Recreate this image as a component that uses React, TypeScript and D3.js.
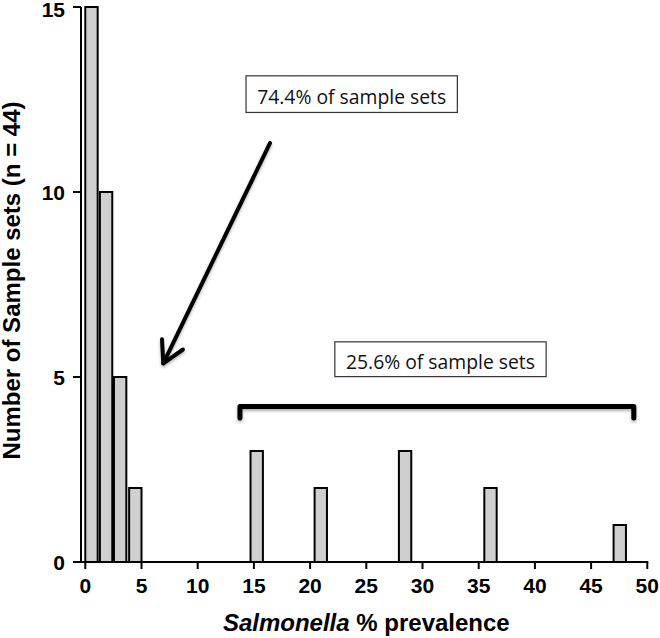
import React from "react";
import * as d3 from "d3";

// Histogram data: bin centre (% prevalence) and number of sample sets
const binCenters = [0.55, 1.85, 3.1, 4.45, 15.25, 20.95, 28.45, 36.05, 47.55];
const binCounts = [15, 10, 5, 2, 3, 2, 3, 2, 1];
const binHalfWidth = 0.55;

const xTicks = [0, 5, 10, 15, 20, 25, 30, 35, 40, 45, 50];
const yTicks = [0, 5, 10, 15];

const xTitleItalic = "Salmonella";
const xTitleRest = " % prevalence";
const yTitle = "Number of Sample sets (n = 44)";

// Annotation labels (data coordinates)
const boxLabels = ["74.4% of sample sets", "25.6% of sample sets"];
const boxX0 = [14.3, 22.2];
const boxX1 = [33.1, 41.0];
const boxYTop = [13.14, 5.95];
const boxYBottom = [12.15, 5.01];

const arrowFrom = [16.43, 11.32];
const arrowTo = [6.94, 5.37];

const bracketX = [13.76, 48.8];
const bracketY = [4.2, 3.89];

const W = 660;
const H = 638;

export default function App() {
  const x = d3.scaleLinear().domain([0, 50]).range([85.3, 647.3]);
  const y = d3.scaleLinear().domain([0, 15]).range([562, 7]);
  const axisX = 81;
  const bold = "'Liberation Sans', Arial, sans-serif";

  // Arrow head
  const tx = x(arrowTo[0]);
  const ty = y(arrowTo[1]);
  const fx = x(arrowFrom[0]);
  const fy = y(arrowFrom[1]);
  const ang = Math.atan2(fy - ty, fx - tx);
  const headLen = 24;
  const spread = (29 * Math.PI) / 180;
  const h1 = [tx + headLen * Math.cos(ang - spread), ty + headLen * Math.sin(ang - spread)];
  const h2 = [tx + headLen * Math.cos(ang + spread), ty + headLen * Math.sin(ang + spread)];

  const line = d3.line();

  return (
    <svg
      width={W}
      height={H}
      viewBox={`0 0 ${W} ${H}`}
      style={{ position: "absolute", left: 0, top: 0, background: "#fff" }}
    >
      <defs>
        <filter id="shadow" x="-10%" y="-50%" width="120%" height="200%">
          <feDropShadow dx="0" dy="2" stdDeviation="1.5" floodColor="#000" floodOpacity="0.3" />
        </filter>
      </defs>
      <rect x={0} y={0} width={W} height={H} fill="#fff" />

      {/* bars */}
      {binCenters.map((c, i) => (
        <rect
          key={i}
          x={x(c - binHalfWidth)}
          y={y(binCounts[i])}
          width={x(c + binHalfWidth) - x(c - binHalfWidth)}
          height={y(0) - y(binCounts[i])}
          fill="#cfcfcf"
          stroke="#000"
          strokeWidth={2}
        />
      ))}

      {/* y axis */}
      <line x1={axisX} x2={axisX} y1={y(15)} y2={y(0)} stroke="#000" strokeWidth={2} />
      {yTicks.map((t) => (
        <g key={t}>
          <line x1={axisX - 8} x2={axisX} y1={y(t)} y2={y(t)} stroke="#000" strokeWidth={2} />
          <text
            x={65}
            y={Math.max(y(t), 9)}
            dy="0.36em"
            textAnchor="end"
            fontFamily={bold}
            fontWeight="bold"
            fontSize={21}
          >
            {t}
          </text>
        </g>
      ))}

      {/* x axis */}
      <line x1={axisX} x2={x(50) + 1} y1={y(0)} y2={y(0)} stroke="#000" strokeWidth={2} />
      {xTicks.map((t) => (
        <g key={t}>
          <line x1={x(t)} x2={x(t)} y1={y(0)} y2={y(0) + 7} stroke="#000" strokeWidth={2} />
          <text
            x={x(t)}
            y={593}
            textAnchor="middle"
            fontFamily={bold}
            fontWeight="bold"
            fontSize={21}
          >
            {t}
          </text>
        </g>
      ))}

      {/* axis titles */}
      <text
        x={(x(0) + x(50)) / 2}
        y={631}
        textAnchor="middle"
        fontFamily={bold}
        fontWeight="bold"
        fontSize={24}
      >
        <tspan fontStyle="italic">{xTitleItalic}</tspan>
        <tspan>{xTitleRest}</tspan>
      </text>
      <text
        transform={`translate(20, ${(y(0) + y(15)) / 2 - 4}) rotate(-90)`}
        textAnchor="middle"
        fontFamily={bold}
        fontWeight="bold"
        fontSize={24}
      >
        {yTitle}
      </text>

      {/* annotation boxes */}
      {boxLabels.map((lab, i) => {
        const bx0 = x(boxX0[i]);
        const bx1 = x(boxX1[i]);
        const by0 = y(boxYTop[i]);
        const by1 = y(boxYBottom[i]);
        return (
          <g key={lab}>
            <rect
              x={bx0}
              y={by0}
              width={bx1 - bx0}
              height={by1 - by0}
              fill="#fff"
              stroke="#333"
              strokeWidth={1.2}
            />
            <text
              x={(bx0 + bx1) / 2}
              y={by1 - 8}
              textAnchor="middle"
              fontFamily="'Open Sans', 'DejaVu Sans', sans-serif"
              fontSize={20}
              textLength={189}
              lengthAdjust="spacingAndGlyphs"
              fill="#111"
            >
              {lab}
            </text>
          </g>
        );
      })}

      {/* arrow */}
      <g filter="url(#shadow)" stroke="#000" strokeWidth={4} fill="none" strokeLinecap="round" strokeLinejoin="round">
        <path d={line([[fx, fy], [tx, ty]]) || ""} />
        <path d={line([h1 as [number, number], [tx, ty], h2 as [number, number]]) || ""} />
      </g>

      {/* bracket */}
      <path
        filter="url(#shadow)"
        d={
          line([
            [x(bracketX[0]), y(bracketY[1])],
            [x(bracketX[0]), y(bracketY[0])],
            [x(bracketX[1]), y(bracketY[0])],
            [x(bracketX[1]), y(bracketY[1])],
          ]) || ""
        }
        stroke="#000"
        strokeWidth={5}
        fill="none"
        strokeLinecap="round"
        strokeLinejoin="round"
      />
    </svg>
  );
}
